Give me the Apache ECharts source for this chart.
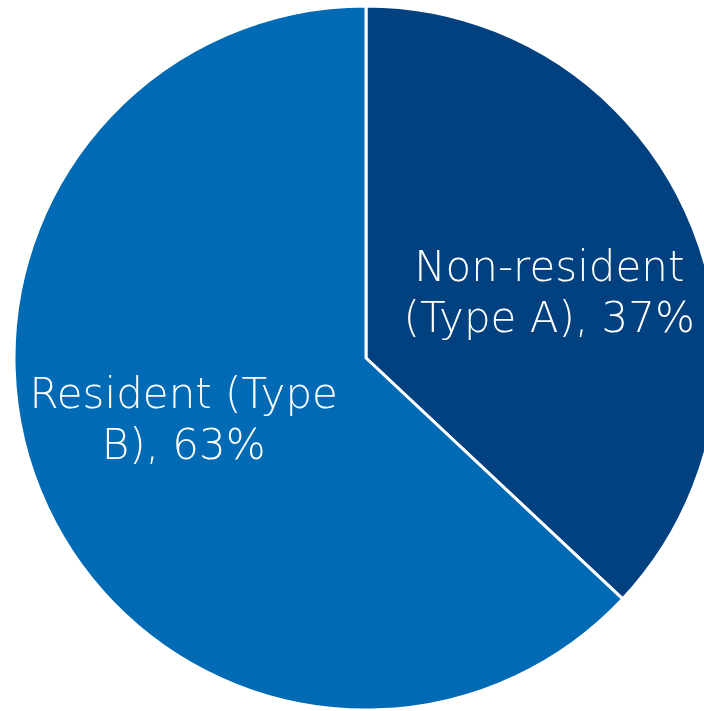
<!DOCTYPE html>
<html>
<head>
<meta charset="utf-8">
<script src="https://cdn.jsdelivr.net/npm/echarts@6/dist/echarts.min.js"></script>
<style>
  html, body { margin: 0; padding: 0; background: #ffffff; }
  #chart { width: 704px; height: 711px; }
</style>
</head>
<body>
<div id="chart"></div>
<script>
// Share of cases by residency type
const categories = ['Non-resident (Type A)', 'Resident (Type B)'];
const values = [37, 63];
// Label text, split over two lines
const labelLines = [
  ['Non-resident', '(Type A)'],
  ['Resident (Type', 'B)']
];
const colors = ['#01417F', '#006AB4'];
const labelOffsets = [[19, 9], [-18, -6]];

const chart = echarts.init(document.getElementById('chart'), null, { renderer: 'canvas' });

const data = categories.map((name, i) => ({
  name: name,
  value: values[i],
  itemStyle: { color: colors[i] },
  label: { offset: labelOffsets[i] }
}));

chart.setOption({
  animation: false,
  backgroundColor: '#ffffff',
  series: [{
    type: 'pie',
    center: [366, 358],
    radius: [0, 352],
    startAngle: 90,
    clockwise: true,
    avoidLabelOverlap: false,
    itemStyle: { borderColor: '#ffffff', borderWidth: 3 },
    label: {
      show: true,
      position: 'inside',
      color: '#ffffff',
      fontFamily: '"DejaVu Sans", sans-serif',
      fontWeight: 200,
      fontSize: 42,
      lineHeight: 51,
      align: 'center',
      formatter: (p) => {
        const lines = labelLines[p.dataIndex];
        return lines[0] + '\n' + lines[1] + ', ' + Math.round(p.percent) + '%';
      }
    },
    labelLine: { show: false },
    data: data
  }]
});
</script>
</body>
</html>
